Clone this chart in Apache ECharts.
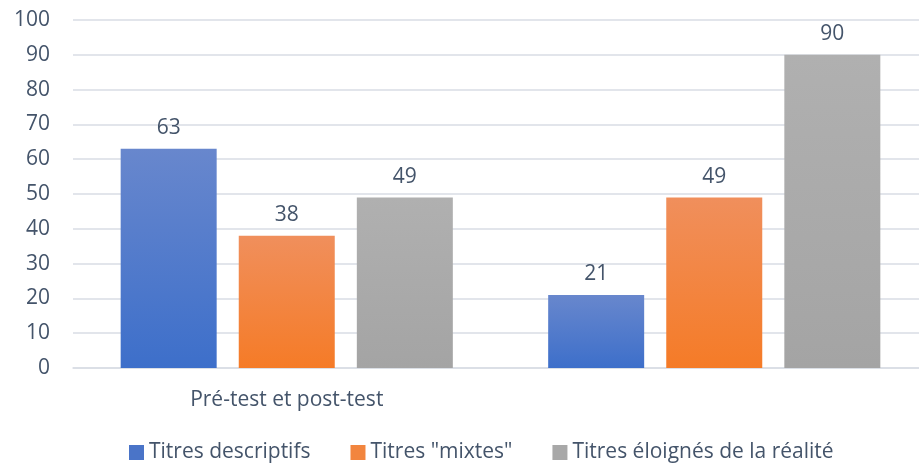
<!DOCTYPE html>
<html>
<head>
<meta charset="utf-8">
<script src="https://cdn.jsdelivr.net/npm/echarts@6/dist/echarts.min.js"></script>
<style>
  html, body { margin: 0; padding: 0; background: #fff; overflow: hidden; }
  #chart { width: 940px; height: 470px; }
</style>
</head>
<body>
<div id="chart"></div>
<script>
var categories = ["Pré-test et post-test", ""];
var seriesNames = ["Titres descriptifs", "Titres \"mixtes\"", "Titres éloignés de la réalité"];
var descriptifs = [63, 21];
var mixtes = [38, 49];
var eloignes = [49, 90];
var yTicks = { min: 0, max: 100, interval: 10 };

var textColor = "#44546A";
var fontFamily = "Open Sans";

function grad(top, bottom) {
  return new echarts.graphic.LinearGradient(0, 0, 0, 1, [
    { offset: 0, color: top },
    { offset: 1, color: bottom }
  ]);
}

var styles = [
  { top: "#6887CD", bottom: "#3D6FCA", legend: "#4A74C8" },
  { top: "#F08F5C", bottom: "#F57B27", legend: "#F2853E" },
  { top: "#B0B0B0", bottom: "#A4A4A4", legend: "#A8A8A8" }
];
var values = [descriptifs, mixtes, eloignes];

var series = seriesNames.map(function (name, i) {
  return {
    name: name,
    type: "bar",
    data: values[i],
    barWidth: 96,
    barGap: "23%",
    itemStyle: { color: grad(styles[i].top, styles[i].bottom) },
    label: {
      show: true,
      position: "top",
      distance: 10,
      color: textColor,
      fontFamily: fontFamily,
      fontSize: 21
    }
  };
});

// the plot area runs past the right edge of the picture, so the canvas is a bit wider than the window
var chart = echarts.init(document.getElementById("chart"));
chart.setOption({
  animation: false,
  grid: { left: 73, width: 855, top: 20, height: 348, containLabel: false },
  legend: {
    top: 442,
    left: 129,
    padding: 0,
    itemWidth: 15,
    itemHeight: 15,
    itemGap: 40,
    icon: "rect",
    textStyle: { color: textColor, fontFamily: fontFamily, fontSize: 21 },
    data: seriesNames.map(function (n, i) {
      return { name: n, itemStyle: { color: styles[i].legend } };
    })
  },
  xAxis: {
    type: "category",
    data: categories,
    axisTick: { show: false },
    axisLine: { lineStyle: { color: "#D9DDE5", width: 1.5 } },
    axisLabel: { color: textColor, fontFamily: fontFamily, fontSize: 21, margin: 22 }
  },
  yAxis: {
    type: "value",
    min: yTicks.min,
    max: yTicks.max,
    interval: yTicks.interval,
    axisLine: { show: false },
    axisTick: { show: false },
    axisLabel: { color: textColor, fontFamily: fontFamily, fontSize: 21, margin: 23 },
    splitLine: { lineStyle: { color: "#D9DDE5", width: 1.5 } }
  },
  series: series
});
</script>
</body>
</html>
